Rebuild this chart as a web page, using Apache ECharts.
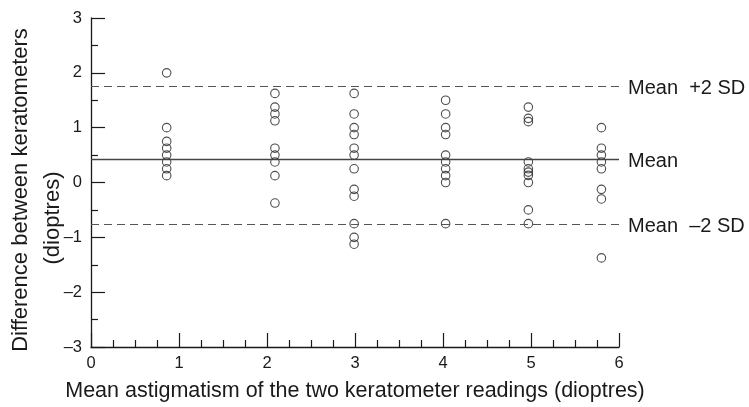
<!DOCTYPE html>
<html>
<head>
<meta charset="utf-8">
<script src="https://cdn.jsdelivr.net/npm/echarts@6/dist/echarts.min.js"></script>
<style>
  html, body { margin: 0; padding: 0; background: #fff; }
  #chart { width: 749px; height: 407px; }
</style>
</head>
<body>
<div id="chart"></div>
<script>
// Column positions (mean astigmatism, dioptres)
const colX = [0.86, 2.09, 2.99, 4.03, 4.97, 5.80];
// Differences between keratometers (dioptres), one array per column
const diffCol1 = [2.0, 1.0, 0.75, 0.625, 0.5, 0.375, 0.25, 0.125];
const diffCol2 = [1.625, 1.375, 1.25, 1.125, 0.625, 0.5, 0.375, 0.125, -0.375];
const diffCol3 = [1.625, 1.25, 1.0, 0.875, 0.625, 0.5, 0.25, -0.125, -0.25, -0.75, -1.0, -1.125];
const diffCol4 = [1.5, 1.25, 1.0, 0.875, 0.5, 0.375, 0.25, 0.125, 0.0, -0.75];
const diffCol5 = [1.375, 1.17, 1.11, 0.375, 0.25, 0.19, 0.13, 0.0, -0.5, -0.75];
const diffCol6 = [1.0, 0.625, 0.5, 0.375, 0.25, -0.125, -0.3, -1.375];
// Reference lines: mean + 2SD, mean, mean - 2SD
const refValues = [1.76, 0.425, -0.765];
const refLabels = ['Mean  +2 SD', 'Mean', 'Mean  \u20132 SD'];
const refDashed = [true, false, true];
// Axis text
const xAxisTitle = 'Mean astigmatism of the two keratometer readings (dioptres)';
const yAxisTitle1 = 'Difference between keratometers';
const yAxisTitle2 = '(dioptres)';

const cols = [diffCol1, diffCol2, diffCol3, diffCol4, diffCol5, diffCol6];
const points = [];
cols.forEach((arr, i) => arr.forEach(v => points.push([colX[i], v])));

const FONT = '"Liberation Sans", Arial, Helvetica, sans-serif';
const INK = '#1a1a1a';

const chart = echarts.init(document.getElementById('chart'), null, { renderer: 'canvas' });

const markData = refValues.map((v, i) => ({
  yAxis: v,
  label: { formatter: refLabels[i] },
  lineStyle: refDashed[i]
    ? { type: [8, 5], color: '#555', width: 1.2 }
    : { type: 'solid', color: '#444', width: 1.3 }
}));

const axisCommon = {
  axisLine: { show: true, onZero: false, lineStyle: { color: INK, width: 1.3 } },
  axisTick: { show: true, inside: true, length: 14, lineStyle: { color: INK, width: 1.2 } },
  minorTick: { show: true, length: 7, lineStyle: { color: INK, width: 1.2 } },
  splitLine: { show: false },
  minorSplitLine: { show: false },
  axisLabel: {
    color: INK, fontSize: 16.5, fontFamily: FONT,
    formatter: v => String(v).replace('-', '\u2013')
  }
};

chart.setOption({
  animation: false,
  backgroundColor: '#fff',
  grid: { left: 91, right: 130, top: 18, bottom: 56, containLabel: false },
  xAxis: Object.assign({}, axisCommon, {
    type: 'value', min: 0, max: 6, interval: 1,
    minorTick: Object.assign({}, axisCommon.minorTick, { splitNumber: 4 }),
    axisLabel: Object.assign({}, axisCommon.axisLabel, { margin: 8 }),
    name: xAxisTitle, nameLocation: 'middle', nameGap: 33,
    nameTextStyle: { color: INK, fontSize: 21.5, fontFamily: FONT }
  }),
  yAxis: Object.assign({}, axisCommon, {
    type: 'value', min: -3, max: 3, interval: 1,
    minorTick: Object.assign({}, axisCommon.minorTick, { splitNumber: 2 }),
    axisLabel: Object.assign({}, axisCommon.axisLabel, { margin: 9 })
  }),
  graphic: [
    {
      type: 'text', x: 21, y: 190, rotation: Math.PI / 2,
      style: { text: yAxisTitle1, font: '22px ' + FONT, fill: INK, align: 'center', verticalAlign: 'middle' }
    },
    {
      type: 'text', x: 53, y: 218, rotation: Math.PI / 2,
      style: { text: yAxisTitle2, font: '22px ' + FONT, fill: INK, align: 'center', verticalAlign: 'middle' }
    }
  ],
  series: [{
    type: 'scatter',
    data: points,
    symbol: 'circle',
    symbolSize: 8.5,
    itemStyle: { color: 'rgba(255,255,255,0)', borderColor: '#222', borderWidth: 1.1 },
    markLine: {
      silent: true,
      symbol: ['none', 'none'],
      label: {
        show: true, position: 'end', distance: 9,
        color: INK, fontSize: 20, fontFamily: FONT, offset: [0, 2]
      },
      data: markData
    }
  }]
});
</script>
</body>
</html>
